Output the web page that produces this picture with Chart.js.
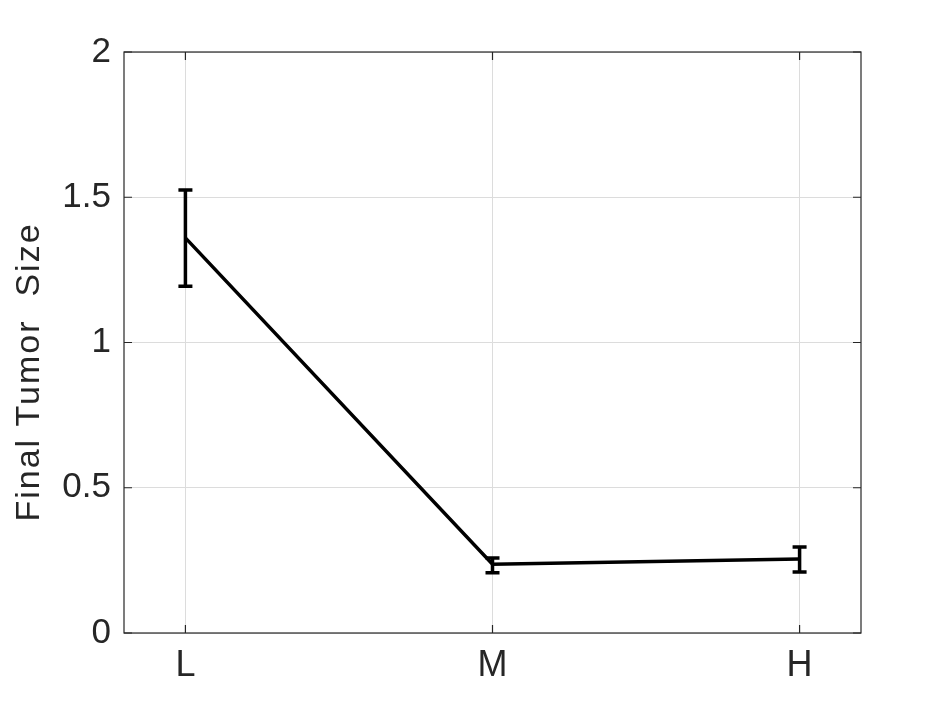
<!DOCTYPE html>
<html>
<head>
<meta charset="utf-8">
<script src="https://cdn.jsdelivr.net/npm/chart.js@4"></script>
<style>
  html, body { margin: 0; padding: 0; background: #fff; }
  #wrap { width: 952px; height: 712px; }
</style>
</head>
<body>
<div id="wrap"><canvas id="tumorChart" width="952" height="712"></canvas></div>
<script>
// ── data ──
const groups = ["L", "M", "H"];
const groupPos = [1, 2, 3];
const meanSize = [1.36, 0.237, 0.255];
const errLow = [1.194, 0.207, 0.210];
const errHigh = [1.525, 0.258, 0.296];
const yTicks = [0, 0.5, 1, 1.5, 2];
const yTitle = "Final Tumor  Size";

const textColor = "#262626";
const fontFamily = "'Liberation Sans', Arial, Helvetica, sans-serif";

// ── box, inward ticks, error bars, y title ──
const framePlugin = {
    id: "frame",
    afterDatasetsDraw(chart) {
        const { ctx, chartArea: a, scales } = chart;
        const xs = scales.x, ys = scales.y;
        ctx.save();

        // error bars
        ctx.strokeStyle = "#000";
        ctx.lineWidth = 3.5;
        ctx.lineCap = "butt";
        groupPos.forEach((g, i) => {
            const px = xs.getPixelForValue(g);
            const top = ys.getPixelForValue(errHigh[i]);
            const bot = ys.getPixelForValue(errLow[i]);
            ctx.beginPath();
            ctx.moveTo(px, top);
            ctx.lineTo(px, bot);
            ctx.moveTo(px - 7, top);
            ctx.lineTo(px + 7, top);
            ctx.moveTo(px - 7, bot);
            ctx.lineTo(px + 7, bot);
            ctx.stroke();
        });

        // box
        ctx.strokeStyle = "#262626";
        ctx.lineWidth = 1.2;
        ctx.strokeRect(a.left, a.top, a.right - a.left, a.bottom - a.top);

        // inward tick marks
        ctx.beginPath();
        groupPos.forEach(g => {
            const px = xs.getPixelForValue(g);
            ctx.moveTo(px, a.bottom);
            ctx.lineTo(px, a.bottom - 8);
            ctx.moveTo(px, a.top);
            ctx.lineTo(px, a.top + 8);
        });
        yTicks.forEach(v => {
            const py = ys.getPixelForValue(v);
            ctx.moveTo(a.left, py);
            ctx.lineTo(a.left + 8, py);
            ctx.moveTo(a.right, py);
            ctx.lineTo(a.right - 8, py);
        });
        ctx.stroke();

        // y axis title
        ctx.translate(30, 372);
        ctx.rotate(-Math.PI / 2);
        ctx.fillStyle = textColor;
        ctx.font = "34px " + fontFamily;
        ctx.letterSpacing = "2px";
        ctx.textAlign = "center";
        ctx.textBaseline = "middle";
        ctx.fillText(yTitle, 0, 0);
        ctx.restore();
    }
};

new Chart(document.getElementById("tumorChart"), {
    type: "line",
    data: {
        datasets: [{
            data: groupPos.map((g, i) => ({ x: g, y: meanSize[i] })),
            borderColor: "#000",
            borderWidth: 3.5,
            pointRadius: 0,
            tension: 0,
            fill: false
        }]
    },
    options: {
        responsive: false,
        animation: false,
        layout: { padding: { top: 52, right: 91, left: 0, bottom: 0 } },
        plugins: { legend: { display: false }, tooltip: { enabled: false } },
        scales: {
            x: {
                type: "linear",
                min: 0.8,
                max: 3.2,
                afterBuildTicks: s => { s.ticks = groupPos.map(v => ({ value: v })); },
                afterFit: s => { s.height = 712 - 633; },
                ticks: {
                    callback: v => groups[groupPos.indexOf(v)] || "",
                    color: textColor,
                    font: { family: fontFamily, size: 36 },
                    padding: 11,
                    maxRotation: 0
                },
                grid: { color: "#dcdcdc", lineWidth: 1, drawTicks: false },
                border: { display: false }
            },
            y: {
                min: 0,
                max: 2,
                afterBuildTicks: s => { s.ticks = yTicks.map(v => ({ value: v })); },
                afterFit: s => { s.width = 124; },
                ticks: {
                    callback: v => String(v),
                    color: textColor,
                    font: { family: fontFamily, size: 35 },
                    padding: 13
                },
                grid: { color: "#dcdcdc", lineWidth: 1, drawTicks: false },
                border: { display: false }
            }
        }
    },
    plugins: [framePlugin]
});
</script>
</body>
</html>
